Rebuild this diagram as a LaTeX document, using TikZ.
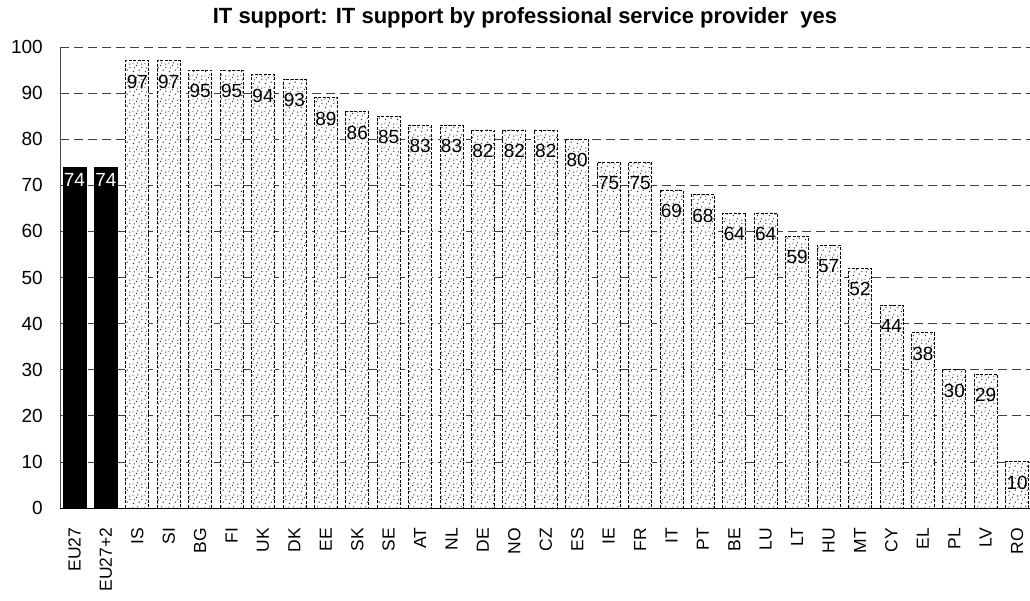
\documentclass[tikz,border=0pt]{standalone}
\usepackage{fontspec}
\setmainfont{Liberation Sans}
\usetikzlibrary{patterns.meta}

% sparse speckle used to fill the country bars
\tikzdeclarepattern{
  name=speckle,
  type=uncolored,
  bounding box={(0pt,0pt) and (12pt,12pt)},
  tile size={(12pt,12pt)},
  code={
    \fill (1pt,1pt) rectangle ++(1.2pt,1.2pt);
    \fill (7pt,2.5pt) rectangle ++(1.2pt,1.2pt);
    \fill (4pt,7.5pt) rectangle ++(1.2pt,1.2pt);
    \fill (9.5pt,9pt) rectangle ++(1.2pt,1.2pt);
    \fill (2pt,5pt) rectangle ++(1pt,1pt);
    \fill (10pt,5.5pt) rectangle ++(1pt,1pt);
    \fill (5.5pt,10.5pt) rectangle ++(1pt,1pt);
    \fill (0.5pt,10pt) rectangle ++(1pt,1pt);
  }
}

\tikzstyle{bar} = [preaction={fill=white}, pattern=speckle, pattern color=black!80,
    draw=black, dash pattern=on 3pt off 1.5pt, line width=0.8pt]
\tikzstyle{eubar} = [fill=black, draw=black]
\tikzstyle{value} = [font=\fontsize{19}{21}\selectfont, inner sep=0pt]
\tikzstyle{tick} = [font=\fontsize{19}{21}\selectfont, anchor=east, inner sep=0pt]
\tikzstyle{country} = [font=\fontsize{17.5}{20}\selectfont, rotate=90, anchor=east,
    inner sep=0pt]
\tikzstyle{grid} = [dash pattern=on 9pt off 5pt, line width=0.7pt, black!75]

\begin{document}
\begin{tikzpicture}[x=1pt, y=1pt]
    \useasboundingbox (0,0) rectangle (1030,601);

    % Title
    \node [font=\bfseries\fontsize{22}{24}\selectfont] (title) at (525,583)
        {IT support: IT support by professional service provider\ \ yes};

    \begin{scope}[shift={(0,93)}, y=4.61pt]
    % Grid and axes
    \foreach \v in {10,20,...,100}
        \draw [grid] (60,\v) -- (1030,\v);
    \foreach \v in {0,10,...,100}
        \node [tick] (tick-\v) at (43,\v) {\v};
    \draw [black!70, line width=0.7pt] (60,0) -- (60,100);

    % Bars, values and country codes
    \foreach \name/\val [count=\i from 0] in {EU27/74, EU27+2/74, IS/97, SI/97,
        BG/95, FI/95, UK/94, DK/93, EE/89, SK/86, SE/85, AT/83, NL/83, DE/82,
        NO/82, CZ/82, ES/80, IE/75, FR/75, IT/69, PT/68, BE/64, LU/64, LT/59,
        HU/57, MT/52, CY/44, EL/38, PL/30, LV/29, RO/10} {
        \pgfmathsetmacro\xc{74.5+31.42*\i}
        \ifnum\i<2
            \draw [eubar] (\xc-11.5,0) rectangle (\xc+11.5,\val);
            \node [value, text=white, yshift=-13pt] (val-\i) at (\xc,\val) {\val};
        \else
            \draw [bar] (\xc-11.5,0) rectangle (\xc+11.5,\val);
            \node [value, yshift=-21pt] (val-\i) at (\xc,\val) {\val};
        \fi
        \node [country] (cc-\i) at (\xc,-4.25) {\name};
    }
    \draw [black, line width=0.8pt] (60,0) -- (1030,0);
    \end{scope}
\end{tikzpicture}
\end{document}
